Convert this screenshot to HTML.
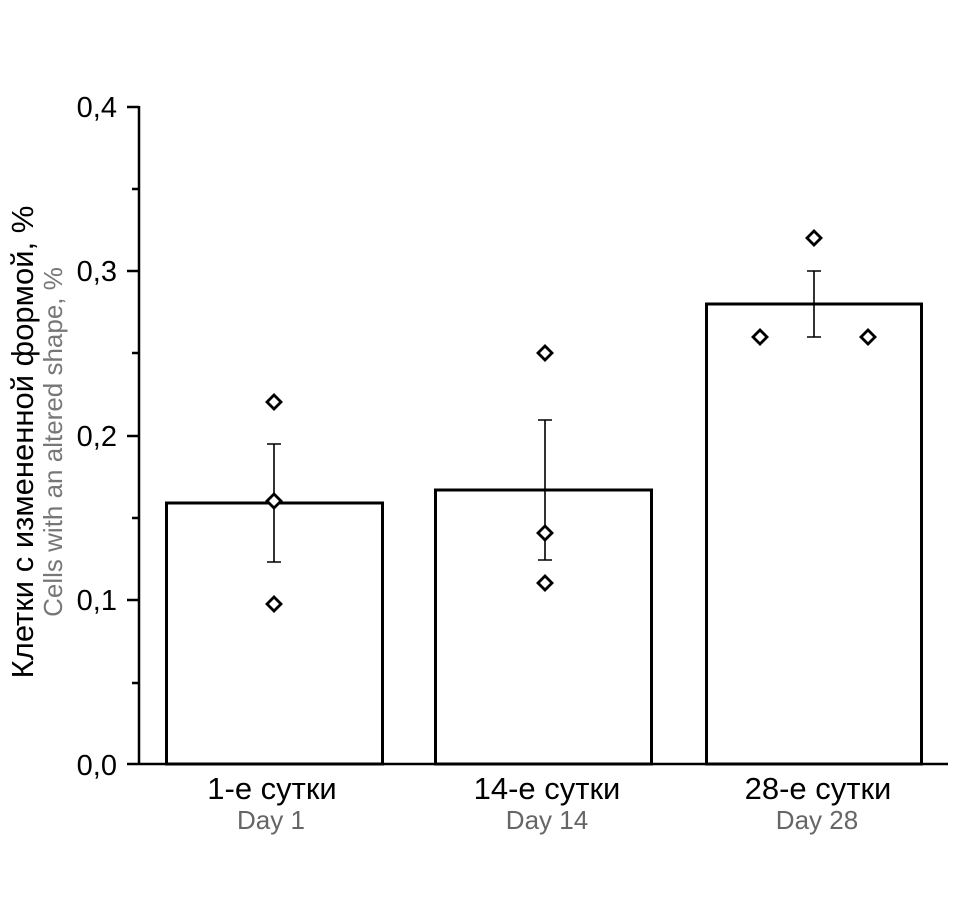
<!DOCTYPE html>
<html><head><style>body{margin:0;background:#fff}svg{display:block}</style></head><body>
<svg width="963" height="916" xmlns="http://www.w3.org/2000/svg" font-family="Liberation Sans, sans-serif">
<rect width="963" height="916" fill="#fff"/>
<g stroke="#000" stroke-width="2.5" fill="none">
<line x1="139" y1="106" x2="139" y2="765"/>
<line x1="127" y1="764" x2="948" y2="764"/>
<line x1="127" y1="107" x2="139" y2="107"/>
<line x1="132" y1="189" x2="139" y2="189"/>
<line x1="127" y1="271" x2="139" y2="271"/>
<line x1="132" y1="353" x2="139" y2="353"/>
<line x1="127" y1="436" x2="139" y2="436"/>
<line x1="132" y1="518" x2="139" y2="518"/>
<line x1="127" y1="600" x2="139" y2="600"/>
<line x1="132" y1="683" x2="139" y2="683"/>
<rect x="166.5" y="503" width="216" height="261" stroke-width="3"/>
<rect x="435.5" y="490" width="216" height="274" stroke-width="3"/>
<rect x="706.5" y="304" width="215" height="460" stroke-width="3"/>
</g>
<g stroke="#000" stroke-width="1.6" fill="none">
<path d="M274 444V562M267 444H281M267 562H281"/>
<path d="M545 420V560M538 420H552M538 560H552"/>
<path d="M814 271V337M807 271H821M807 337H821"/>
</g>
<g stroke="#000" stroke-width="2.8" fill="#fff">
<path d="M274 395l7 7-7 7-7-7z"/>
<path d="M274 494l7 7-7 7-7-7z"/>
<path d="M274 597l7 7-7 7-7-7z"/>
<path d="M545 346l7 7-7 7-7-7z"/>
<path d="M545 526l7 7-7 7-7-7z"/>
<path d="M545 576l7 7-7 7-7-7z"/>
<path d="M760 330l7 7-7 7-7-7z"/>
<path d="M814 231l7 7-7 7-7-7z"/>
<path d="M868 330l7 7-7 7-7-7z"/>
</g>
<g font-size="29" text-anchor="end" fill="#000">
<text x="117" y="117">0,4</text>
<text x="117" y="281">0,3</text>
<text x="117" y="446">0,2</text>
<text x="117" y="610">0,1</text>
<text x="117" y="775">0,0</text>
</g>
<g font-size="31" text-anchor="middle" fill="#000">
<text x="272" y="799">1-е сутки</text>
<text x="547" y="799">14-е сутки</text>
<text x="818" y="799">28-е сутки</text>
</g>
<g font-size="26" text-anchor="middle" fill="#666">
<text x="271" y="829">Day 1</text>
<text x="547" y="829">Day 14</text>
<text x="817" y="829">Day 28</text>
</g>
<text transform="translate(33,442) rotate(-90)" font-size="31" text-anchor="middle" fill="#000">Клетки с измененной формой, %</text>
<text transform="translate(62,442) rotate(-90)" font-size="26" text-anchor="middle" fill="#777">Cells with an altered shape, %</text>
</svg>
</body></html>
